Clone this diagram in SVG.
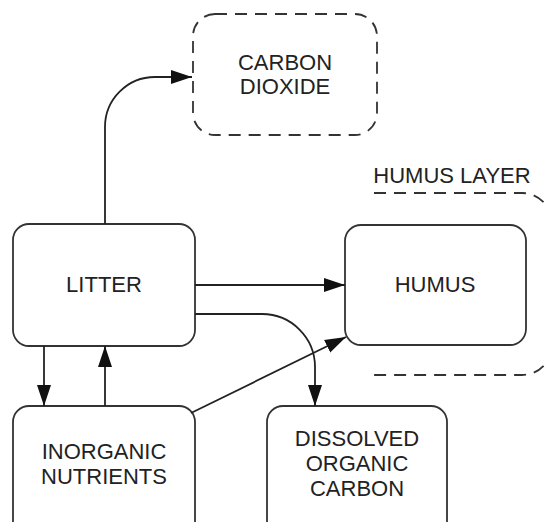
<svg xmlns="http://www.w3.org/2000/svg" width="547" height="522" viewBox="0 0 547 522">
<style>
.box{fill:#fff;stroke:#333;stroke-width:1.8}
.dash{fill:none;stroke:#333;stroke-width:1.8;stroke-dasharray:12 8}
.lbl{font-family:"Liberation Sans",Arial,sans-serif;font-size:22px;fill:#222;text-anchor:middle}
.edge{fill:none;stroke:#222;stroke-width:1.8}
</style>
<defs>
<marker id="ah" markerUnits="userSpaceOnUse" markerWidth="22" markerHeight="16" refX="21" refY="8" orient="auto">
<path d="M0,1 L21,8 L0,15 z" fill="#111"/>
</marker>
</defs>
<rect width="547" height="522" fill="#fff"/>
<g id="humus-layer">
<path class="dash" d="M374 193 H522 A30 30 0 0 1 552 223 V345 A30 30 0 0 1 522 375 H374"/>
<text class="lbl" x="452" y="183">HUMUS LAYER</text>
</g>
<g id="carbon-dioxide">
<rect class="dash" x="193" y="14" width="184" height="121" rx="22"/>
<text class="lbl" x="285" y="70">CARBON</text>
<text class="lbl" x="285" y="94">DIOXIDE</text>
</g>
<g id="litter">
<rect class="box" x="13" y="224" width="182" height="122" rx="16"/>
<text class="lbl" x="104" y="292">LITTER</text>
</g>
<g id="humus">
<rect class="box" x="345" y="225" width="181" height="120" rx="16"/>
<text class="lbl" x="435" y="292">HUMUS</text>
</g>
<g id="inorganic-nutrients">
<rect class="box" x="13" y="406" width="182" height="140" rx="16"/>
<text class="lbl" x="104" y="459">INORGANIC</text>
<text class="lbl" x="104" y="484">NUTRIENTS</text>
</g>
<g id="dissolved-organic-carbon">
<rect class="box" x="267" y="406" width="180" height="140" rx="16"/>
<text class="lbl" x="357" y="446">DISSOLVED</text>
<text class="lbl" x="357" y="471">ORGANIC</text>
<text class="lbl" x="357" y="496">CARBON</text>
</g>
<g id="connectors">
<path class="edge" d="M105 224 V127 A50 50 0 0 1 155 77 H192" marker-end="url(#ah)"/>
<path class="edge" d="M195 285 H345" marker-end="url(#ah)"/>
<path class="edge" d="M195 314 H262 A53 53 0 0 1 315 367 V406" marker-end="url(#ah)"/>
<path class="edge" d="M44 346 V406" marker-end="url(#ah)"/>
<path class="edge" d="M105 406 V346" marker-end="url(#ah)"/>
<path class="edge" d="M191 413 L346 337" marker-end="url(#ah)"/>
</g>
</svg>
